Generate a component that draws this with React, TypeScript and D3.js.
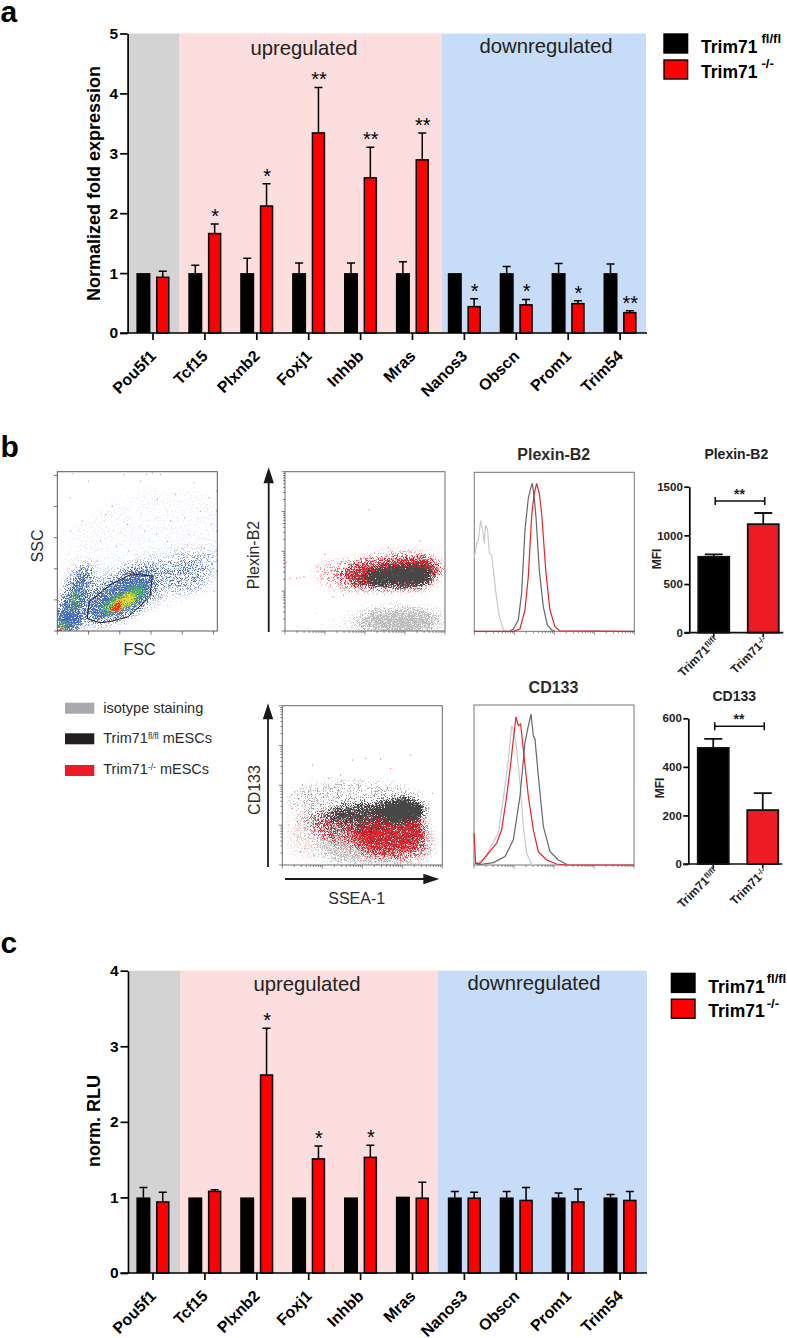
import * as d3 from "d3";
import React, { useEffect, useRef } from "react";

// ---- panels a and c ----
const genes = ["Pou5f1", "Tcf15", "Plxnb2", "Foxj1", "Inhbb", "Mras", "Nanos3", "Obscn", "Prom1", "Trim54"];

const aFlox = [1, 1, 1, 1, 1, 1, 1, 1, 1, 1];
const aFloxTop = [1, 1.13, 1.25, 1.17, 1.17, 1.19, 1, 1.11, 1.16, 1.15];
const aKo = [0.93, 1.66, 2.12, 3.34, 2.59, 2.89, 0.44, 0.47, 0.49, 0.34];
const aKoTop = [1.03, 1.82, 2.49, 4.1, 3.1, 3.34, 0.57, 0.56, 0.54, 0.37];
const aStars = ["", "*", "*", "**", "**", "**", "*", "*", "*", "**"];

const cFlox = [1, 1, 1, 1, 1, 1.01, 1, 1, 1, 1];
const cFloxTop = [1.13, 1, 1, 1, 1, 1.01, 1.08, 1.08, 1.06, 1.04];
const cKo = [0.94, 1.08, 2.62, 1.51, 1.53, 0.99, 0.99, 0.96, 0.94, 0.96];
const cKoTop = [1.07, 1.1, 3.24, 1.68, 1.69, 1.2, 1.07, 1.13, 1.11, 1.08];
const cStars = ["", "", "*", "*", "*", "", "", "", "", ""];

// ---- panel b bars ----
const mfiGroups = ["fl", "ko"];
const plexinMfi = [780, 1115];
const plexinMfiTop = [805, 1230];
const cd133Mfi = [478, 222];
const cd133MfiTop = [515, 292];

// ---- panel b histograms: [channel 0-480, count 0-477] ----
const plexinIso = [[0,219],[7,264],[12,274],[19,332],[25,304],[30,264],[34,319],[40,304],[45,234],[52,229],[57,184],[65,114],[75,44],[87,6],[97,0]];
const plexinFlox = [[107,1],[117,7],[132,34],[142,114],[152,304],[162,399],[169,429],[174,444],[179,409],[185,344],[195,184],[207,74],[219,19],[232,4],[242,0]];
const plexinKo = [[0,0],[117,0],[137,7],[152,64],[162,164],[172,344],[179,409],[187,444],[195,414],[202,354],[215,174],[227,64],[242,14],[257,1],[480,0]];
const cd133Iso = [[8,5],[33,20],[53,60],[73,95],[83,165],[93,235],[103,315],[113,415],[121,395],[128,345],[138,245],[148,115],[158,35],[173,2],[188,0]];
const cd133Flox = [[8,0],[58,7],[93,25],[118,75],[138,205],[153,365],[163,415],[171,450],[178,385],[183,375],[193,265],[208,115],[228,40],[253,15],[278,2]];
const cd133Ko = [[0,95],[5,5],[18,5],[43,35],[68,65],[83,105],[98,205],[110,300],[118,375],[126,442],[133,415],[140,420],[150,325],[163,205],[178,105],[193,40],[218,15],[248,3],[278,0],[480,0]];

// ---- panel b flow plots ----
// The single events can't be read off the picture. Populations are hand-estimated
// regions [cx, cy, rx, ry, tilt, density] on a 0-480 plot scale, and the grain is
// a render filter on them, not data. Only the lone outliers are listed as points.
const gatePolygon = [[90,37],[96,88],[158,138],[223,171],[285,165],[278,103],[268,93],[213,43],[158,28],[128,25]];

const sscBlue = [[270,270,260,150,15,0.03],[248,133,260,72,20,0.12],[385,165,75,50,0,0.14],[53,98,108,34,70,0.5],[188,98,112,52,30,0.55],[30,25,40,34,0,0.6],[250,170,60,28,0,0.25]];
const sscGreen = [[198,93,78,26,30,0.72],[53,93,44,11,70,0.55],[18,16,12,20,0,0.7]];
const sscYellow = [[195,85,50,16,30,0.8],[14,10,6,12,0,0.7]];
const sscRed = [[178,72,24,9,30,0.9],[11,6,5,8,0,1]];
const sscOutliers = [[93,450],[38,400],[40,300],[145,350],[165,375],[210,320],[250,450],[268,470],[300,395],[330,270],[355,410],[382,340],[410,445],[430,360],[462,320],[130,270],[178,255],[215,240],[262,300],[298,290],[340,330],[395,290],[440,250],[465,200],[470,120],[455,400],[120,210],[75,330],[310,470],[285,474],[200,470],[47,472],[477,300],[477,240],[477,180],[477,360],[477,420]];

const plexinGrey = [[340,32,140,38,0,0.4],[350,24,90,28,0,0.55],[240,18,80,26,0,0.12]];
const plexinRed = [[320,178,150,45,4,0.55],[170,165,80,40,-8,0.16],[400,175,50,40,0,0.42]];
const plexinDark = [[290,162,90,28,6,0.4],[335,165,95,30,4,0.8],[385,168,55,30,0,1.0]];
const plexinRedOutliers = [[252,363],[15,158],[35,158],[57,163],[45,160],[95,193],[145,103],[175,108],[5,205],[120,230],[310,250],[405,270]];
const plexinGreyOutliers = [[95,53],[145,33],[165,13],[35,13],[110,20],[70,8],[190,60]];

const cd133Pale = [[285,62,175,62,0,0.32],[150,75,125,70,0,0.16]];
const cd133Red = [[320,95,100,58,0,0.5],[205,112,115,50,0,0.34],[395,110,30,50,0,0.5],[330,50,115,42,0,0.26],[60,100,50,70,0,0.06]];
const cd133DarkThin = [[215,195,200,58,0,0.12],[200,130,150,34,0,0.2],[330,100,115,55,0,0.14]];
const cd133Dark = [[250,155,125,30,4,0.62],[355,162,70,36,4,1]];
const cd133DarkOutliers = [[210,315],[250,320],[295,318],[385,330],[140,260],[175,270],[60,240],[85,225]];
const cd133RedOutliers = [[30,170],[45,130],[20,120],[90,300],[325,290],[370,220],[450,215],[55,40],[95,28]];

const isotypeColor = "#a7a9ac";
const floxColor = "#231f20";
const koColor = "#ed1c24";
const sans = "Liberation Sans, Arial, sans-serif";

const logTicks = d3.scaleLog().domain([1, 10000]).ticks();

function text(parent, str, x, y, size, opts = {}) {
    return parent
        .append("text")
        .text(str)
        .attr("x", x)
        .attr("y", y)
        .attr("font-size", size)
        .attr("font-family", sans)
        .attr("font-weight", opts.weight || "normal")
        .attr("text-anchor", opts.anchor || "start")
        .attr("fill", opts.fill || "#000");
}

function vText(parent, str, x, y, size, opts = {}) {
    return text(parent, str, 0, 0, size, { ...opts, anchor: "middle" }).attr(
        "transform",
        `translate(${x},${y}) rotate(-90)`
    );
}

function drawBarPanel(svg, p) {
    const g = svg.append("g");
    const x = d3.scaleBand().domain(genes).range([127.05, 646.05]);
    const y = d3.scaleLinear().domain([0, p.yMax]).range([p.y0, p.yTop]);

    const edges = p.edges;
    [
        ["#d3d3d3", edges[0], edges[1]],
        ["#fddede", edges[1], edges[2]],
        ["#c7dcf7", edges[2], edges[3]],
    ].forEach(([c, a, b]) => {
        g.append("rect")
            .attr("x", a)
            .attr("width", b - a)
            .attr("y", p.yTop)
            .attr("height", p.y0 - p.yTop)
            .attr("fill", c);
    });

    text(g, "upregulated", p.upX, p.upY, 20.3, { anchor: "middle", fill: "#222" });
    text(g, "downregulated", p.downX, p.downY, 20.3, { anchor: "middle", fill: "#222" });

    const mid = (d) => x(d) + x.bandwidth() / 2;
    const dark = -9.6;
    const red = 9.75;

    genes.forEach((gene, i) => {
        // black bar + whisker
        g.append("rect")
            .attr("x", mid(gene) + dark - 7)
            .attr("width", 14)
            .attr("y", y(p.flox[i]))
            .attr("height", p.y0 - y(p.flox[i]))
            .attr("fill", "#000");
        if (p.floxTop[i] > p.flox[i] + 0.015) {
            g.append("path")
                .attr("d", `M${mid(gene) + dark},${y(p.flox[i])}V${y(p.floxTop[i])}m-4,0h8`)
                .attr("stroke", "#000")
                .attr("stroke-width", 1.5)
                .attr("fill", "none");
        }
        // red bar + whisker
        g.append("path")
            .attr("d", `M${mid(gene) + red},${y(p.ko[i])}V${y(p.koTop[i])}m-4,0h8`)
            .attr("stroke", "#000")
            .attr("stroke-width", 1.5)
            .attr("fill", "none");
        g.append("rect")
            .attr("x", mid(gene) + red - 6)
            .attr("width", 12)
            .attr("y", y(p.ko[i]))
            .attr("height", p.y0 - y(p.ko[i]))
            .attr("fill", "#f00")
            .attr("stroke", "#000")
            .attr("stroke-width", 1.5);
        if (p.stars[i]) {
            text(g, p.stars[i], mid(gene) + red + 0.5, y(p.koTop[i]) - 1, 20, { anchor: "middle" });
        }
    });

    // axes
    const yAxis = d3.axisLeft(y).ticks(p.yMax).tickFormat(d3.format("d")).tickSize(7.5).tickSizeOuter(0);
    const yG = g.append("g").attr("transform", `translate(${p.axisX},0)`).call(yAxis);
    yG.selectAll("line").attr("stroke-width", 1.7);
    yG.select(".domain").attr("stroke-width", 1.7);
    yG.selectAll("text")
        .attr("font-size", 15.5)
        .attr("font-weight", "bold")
        .attr("font-family", sans)
        .attr("fill", "#000")
        .attr("x", -9.5);

    g.append("line")
        .attr("x1", p.axisX - 7.5)
        .attr("x2", 647)
        .attr("y1", p.y0)
        .attr("y2", p.y0)
        .attr("stroke", "#000")
        .attr("stroke-width", 1.7);

    genes.forEach((gene) => {
        g.append("line")
            .attr("x1", mid(gene))
            .attr("x2", mid(gene))
            .attr("y1", p.y0)
            .attr("y2", p.y0 + 7)
            .attr("stroke", "#000")
            .attr("stroke-width", 1.7);
        text(g, gene, 0, 0, 16, { weight: "bold", anchor: "end" }).attr(
            "transform",
            `translate(${mid(gene) + 4},${p.y0 + 24}) rotate(-45)`
        );
    });

    vText(g, p.title, p.titleX, p.titleY, 18, { weight: "bold" });

    // legend
    [
        ["#000", "fl/fl", 0],
        ["#f00", "-/-", 1],
    ].forEach(([fill, sup, i]) => {
        const top = p.legTop[i];
        g.append("rect")
            .attr("x", p.legX + 0.7)
            .attr("y", top + 0.7)
            .attr("width", 23.6)
            .attr("height", 19)
            .attr("fill", fill)
            .attr("stroke", "#000")
            .attr("stroke-width", 1.4);
        text(g, "Trim71", p.legTextX, p.legBase[i], 17.5, { weight: "bold" });
        text(g, sup, p.legSupX, p.legBase[i] - 9.6, 13, { weight: "bold" });
    });
}

function addSpeckleFilter(defs, id, color, seed, blur, slope) {
    const f = defs
        .append("filter")
        .attr("id", id)
        .attr("filterUnits", "userSpaceOnUse")
        .attr("x", 0)
        .attr("y", 0)
        .attr("width", 787)
        .attr("height", 1338)
        .attr("color-interpolation-filters", "sRGB");
    f.append("feGaussianBlur").attr("in", "SourceAlpha").attr("stdDeviation", blur).attr("result", "soft");
    f.append("feTurbulence")
        .attr("type", "fractalNoise")
        .attr("baseFrequency", 1.3)
        .attr("numOctaves", 1)
        .attr("seed", seed)
        .attr("result", "noise");
    f.append("feColorMatrix")
        .attr("in", "noise")
        .attr("type", "matrix")
        .attr("values", "0 0 0 0 0  0 0 0 0 0  0 0 0 0 0  2.2 0 0 0 -0.35")
        .attr("result", "grain");
    f.append("feComposite")
        .attr("in", "soft")
        .attr("in2", "grain")
        .attr("operator", "arithmetic")
        .attr("k1", 0)
        .attr("k2", 1)
        .attr("k3", 1)
        .attr("k4", -1)
        .attr("result", "sum");
    const ct = f.append("feComponentTransfer").attr("in", "sum").attr("result", "dots");
    ct.append("feFuncA").attr("type", "linear").attr("slope", slope).attr("intercept", 0);
    f.append("feFlood").attr("flood-color", color).attr("result", "ink");
    f.append("feComposite").attr("in", "ink").attr("in2", "dots").attr("operator", "in");
}

function addCloud(parent, regions, x, y, filterId) {
    parent
        .append("g")
        .attr("filter", `url(#${filterId})`)
        .selectAll("ellipse")
        .data(regions)
        .enter()
        .append("ellipse")
        .attr("rx", (d) => x(d[2]) - x(0))
        .attr("ry", (d) => y(0) - y(d[3]))
        .attr("transform", (d) => `translate(${x(d[0])},${y(d[1])}) rotate(${-d[4]})`)
        .attr("fill", "#000")
        .attr("fill-opacity", (d) => d[5]);
}

function addDots(parent, pts, x, y, color) {
    parent
        .append("g")
        .selectAll("circle")
        .data(pts)
        .enter()
        .append("circle")
        .attr("cx", (d) => x(d[0]))
        .attr("cy", (d) => y(d[1]))
        .attr("r", 0.5)
        .attr("fill", color);
}

function flowFrame(svg, defs, id, left, top, right, bottom) {
    defs.append("clipPath").attr("id", id).append("rect").attr("x", left).attr("y", top).attr("width", right - left).attr("height", bottom - top);
    const x = d3.scaleLinear().domain([0, 480]).range([left, right]);
    const y = d3.scaleLinear().domain([0, 478]).range([bottom, top]);
    const inner = svg.append("g").attr("clip-path", `url(#${id})`);
    return { x, y, inner };
}

function frameBox(svg, left, top, right, bottom, color = "#5a5a5a") {
    svg.append("rect")
        .attr("x", left)
        .attr("y", top)
        .attr("width", right - left)
        .attr("height", bottom - top)
        .attr("fill", "none")
        .attr("stroke", color)
        .attr("stroke-width", 1);
}

function bottomLogTicks(svg, left, right, bottom) {
    const s = d3.scaleLog().domain([1, 10000]).range([left, right]);
    logTicks.forEach((t) => {
        const major = Number.isInteger(Math.log10(t));
        svg.append("line")
            .attr("x1", s(t))
            .attr("x2", s(t))
            .attr("y1", bottom)
            .attr("y2", bottom + (major ? 3.5 : 2))
            .attr("stroke", "#555")
            .attr("stroke-width", 0.7);
    });
}

function leftLogTicks(svg, left, top, bottom) {
    const s = d3.scaleLog().domain([1, 10000]).range([bottom, top]);
    logTicks.forEach((t) => {
        const major = Number.isInteger(Math.log10(t));
        svg.append("line")
            .attr("x1", left)
            .attr("x2", left - (major ? 3.5 : 2))
            .attr("y1", s(t))
            .attr("y2", s(t))
            .attr("stroke", "#555")
            .attr("stroke-width", 0.7);
    });
}

function drawArrow(svg, x1, y1, x2, y2) {
    const a = (Math.atan2(y2 - y1, x2 - x1) * 180) / Math.PI;
    const len = Math.hypot(x2 - x1, y2 - y1);
    svg.append("line")
        .attr("x1", x1)
        .attr("y1", y1)
        .attr("x2", x1 + ((x2 - x1) * (len - 10)) / len)
        .attr("y2", y1 + ((y2 - y1) * (len - 10)) / len)
        .attr("stroke", "#1a1a1a")
        .attr("stroke-width", 1.8);
    svg.append("path")
        .attr("d", "M0,0L-16,-5.2L-16,5.2Z")
        .attr("transform", `translate(${x2},${y2}) rotate(${a})`)
        .attr("fill", "#1a1a1a");
}

function drawHistogram(svg, left, top, right, bottom, iso, flox, ko, title, titleBase) {
    const x = d3.scaleLinear().domain([0, 480]).range([left, right]);
    const y = d3.scaleLinear().domain([0, 477]).range([bottom, top]);
    const line = d3.line().x((d) => x(d[0])).y((d) => y(d[1]));
    frameBox(svg, left, top, right, bottom, "#777");
    bottomLogTicks(svg, left, right, bottom);
    [[iso, "#c9c9c9"], [flox, "#666666"], [ko, "#e8232a"]].forEach(([pts, c]) => {
        svg.append("path")
            .attr("d", line(pts))
            .attr("fill", "none")
            .attr("stroke", c)
            .attr("stroke-width", 1.2);
    });
    text(svg, title, (left + right) / 2 - 0.5, titleBase, 16, { weight: "bold", anchor: "middle", fill: "#2b2b2b" });
}

function drawMfiBars(svg, p) {
    const g = svg.append("g");
    const x = d3.scaleBand().domain(mfiGroups).range([p.x0 + 0.5, p.x0 + 99.5]);
    const y = d3.scaleLinear().domain([0, p.yMax]).range([p.y0, p.yTop]);
    const mid = (d) => x(d) + x.bandwidth() / 2;
    const barW = 31;

    mfiGroups.forEach((k, i) => {
        g.append("path")
            .attr("d", `M${mid(k)},${y(p.vals[i])}V${y(p.tops[i])}m-9,0h18`)
            .attr("stroke", "#111")
            .attr("stroke-width", 1.8)
            .attr("fill", "none");
        g.append("rect")
            .attr("x", mid(k) - barW / 2)
            .attr("width", barW)
            .attr("y", y(p.vals[i]))
            .attr("height", p.y0 - y(p.vals[i]))
            .attr("fill", i === 0 ? "#000" : koColor)
            .attr("stroke", "#111")
            .attr("stroke-width", 1.8);
    });

    const yAxis = d3.axisLeft(y).tickValues(p.ticks).tickFormat(d3.format("d")).tickSize(5).tickSizeOuter(0);
    const yG = g.append("g").attr("transform", `translate(${p.axisX},0)`).call(yAxis);
    yG.selectAll("line").attr("stroke-width", 1.7);
    yG.select(".domain").attr("stroke-width", 1.7);
    yG.selectAll("text")
        .attr("font-size", 11.5)
        .attr("font-weight", "bold")
        .attr("font-family", sans)
        .attr("fill", "#222")
        .attr("x", -6.5);
    g.append("line")
        .attr("x1", p.axisX - 5)
        .attr("x2", p.axisX + 94)
        .attr("y1", p.y0)
        .attr("y2", p.y0)
        .attr("stroke", "#111")
        .attr("stroke-width", 1.7);

    mfiGroups.forEach((k, i) => {
        g.append("line")
            .attr("x1", mid(k))
            .attr("x2", mid(k))
            .attr("y1", p.y0)
            .attr("y2", p.y0 + 4.5)
            .attr("stroke", "#111")
            .attr("stroke-width", 1.7);
        const t = text(g, "Trim71", 0, 0, 12, { weight: "bold", anchor: "end", fill: "#222" }).attr(
            "transform",
            `translate(${mid(k) + 5},${p.y0 + 9}) rotate(-45)`
        );
        t.append("tspan").text(i === 0 ? "fl/fl" : "-/-").attr("font-size", 8).attr("dy", -3.5);
    });

    // significance bracket
    const by = y(p.bracket);
    g.append("path")
        .attr("d", `M${mid("fl") + 1.5},${by - 4}v8m0,-4H${mid("ko") + 1.5}m0,-4v8`)
        .attr("stroke", "#111")
        .attr("stroke-width", 1.6)
        .attr("fill", "none");
    text(g, "**", (mid("fl") + mid("ko")) / 2 + 1, by - 2, 14, { weight: "bold", anchor: "middle", fill: "#222" });

    text(g, p.title, p.titleX, p.titleY, 14, { weight: "bold", anchor: "middle", fill: "#222" });
    vText(g, "MFI", p.mfiX, p.mfiY, 12, { weight: "bold", fill: "#222" });
}

function drawChart(el) {
    const svg = d3.select(el);
    svg.selectAll("*").remove();
    const defs = svg.append("defs");

    text(svg, "a", 0.5, 22, 30, { weight: "bold" });
    text(svg, "b", 0.5, 456.5, 30, { weight: "bold" });
    text(svg, "c", 0.5, 952.5, 30, { weight: "bold" });

    drawBarPanel(svg, {
        flox: aFlox, floxTop: aFloxTop, ko: aKo, koTop: aKoTop, stars: aStars,
        yMax: 5, y0: 333, yTop: 33.5, axisX: 127.6,
        edges: [129, 179, 441.7, 646],
        upX: 304, upY: 55, downX: 546, downY: 53,
        title: "Normalized fold expression", titleX: 99.5, titleY: 183.5,
        legX: 663.3, legTop: [33.3, 59.3], legTextX: 701, legBase: [53, 78], legSupX: 761.5,
    });
    drawBarPanel(svg, {
        flox: cFlox, floxTop: cFloxTop, ko: cKo, koTop: cKoTop, stars: cStars,
        yMax: 4, y0: 1273, yTop: 970.7, axisX: 128,
        edges: [129.5, 180, 438, 647],
        upX: 307, upY: 990.7, downX: 534, downY: 990,
        title: "norm. RLU", titleX: 99.5, titleY: 1121,
        legX: 670.7, legTop: [972.7, 998.5], legTextX: 708.3, legBase: [992.7, 1017.3], legSupX: 766.7,
    });

    addSpeckleFilter(defs, "spBlue", "#4a6cc0", 2, 6, 4);
    addSpeckleFilter(defs, "spGreen", "#54b060", 5, 3.5, 3);
    addSpeckleFilter(defs, "spYellow", "#e2d83a", 7, 2.5, 3);
    addSpeckleFilter(defs, "spRedHot", "#ee3a1c", 9, 2, 3);
    addSpeckleFilter(defs, "spGrey", "#bdbdbd", 11, 6, 4);
    addSpeckleFilter(defs, "spRed", "#e5202a", 13, 6, 4);
    addSpeckleFilter(defs, "spDark", "#474747", 17, 4.5, 4);
    addSpeckleFilter(defs, "spRedB", "#e5202a", 19, 6, 4);

    // FSC / SSC
    const ssc = flowFrame(svg, defs, "clipSsc", 57.3, 471.7, 217.3, 631);
    addCloud(ssc.inner, sscBlue, ssc.x, ssc.y, "spBlue");
    addCloud(ssc.inner, sscGreen, ssc.x, ssc.y, "spGreen");
    addCloud(ssc.inner, sscYellow, ssc.x, ssc.y, "spYellow");
    addCloud(ssc.inner, sscRed, ssc.x, ssc.y, "spRedHot");
    addDots(ssc.inner, sscOutliers, ssc.x, ssc.y, "#4a6cc0");
    svg.append("path")
        .attr("d", d3.line().x((d) => ssc.x(d[0])).y((d) => ssc.y(d[1])).curve(d3.curveLinearClosed)(gatePolygon))
        .attr("fill", "none")
        .attr("stroke", "#222")
        .attr("stroke-width", 1);
    frameBox(svg, 57.3, 471.7, 217.3, 631);
    const linX = d3.scaleLinear().domain([0, 1024]).range([57.3, 217.3]);
    const linY = d3.scaleLinear().domain([0, 1024]).range([631, 471.7]);
    d3.range(0, 1024, 200).forEach((t) => {
        svg.append("line").attr("x1", linX(t)).attr("x2", linX(t)).attr("y1", 631).attr("y2", 634.5).attr("stroke", "#555").attr("stroke-width", 0.8);
        svg.append("line").attr("x1", 57.3).attr("x2", 53.8).attr("y1", linY(t)).attr("y2", linY(t)).attr("stroke", "#555").attr("stroke-width", 0.8);
    });
    vText(svg, "SSC", 43, 546, 16, { fill: "#2b2b2b" });
    text(svg, "FSC", 139.5, 655, 16, { anchor: "middle", fill: "#2b2b2b" });

    // Plexin-B2 vs SSEA-1
    const plex = flowFrame(svg, defs, "clipPlex", 285, 471.7, 445, 631);
    addCloud(plex.inner, plexinGrey, plex.x, plex.y, "spGrey");
    addCloud(plex.inner, plexinRed, plex.x, plex.y, "spRed");
    addCloud(plex.inner, plexinDark, plex.x, plex.y, "spDark");
    addDots(plex.inner, plexinRedOutliers, plex.x, plex.y, koColor);
    addDots(plex.inner, plexinGreyOutliers, plex.x, plex.y, "#bdbdbd");
    frameBox(svg, 285, 471.7, 445, 631, "#6a6a6a");
    bottomLogTicks(svg, 285, 445, 631);
    leftLogTicks(svg, 285, 471.7, 631);
    drawArrow(svg, 268.7, 632, 268.7, 467.3);
    vText(svg, "Plexin-B2", 259, 555, 16, { fill: "#2b2b2b" });

    // CD133 vs SSEA-1
    const cd = flowFrame(svg, defs, "clipCd", 282.3, 705.7, 442.3, 865);
    addCloud(cd.inner, cd133Pale, cd.x, cd.y, "spGrey");
    addCloud(cd.inner, cd133Red, cd.x, cd.y, "spRedB");
    addCloud(cd.inner, cd133DarkThin, cd.x, cd.y, "spDark");
    addCloud(cd.inner, cd133Dark, cd.x, cd.y, "spDark");
    addDots(cd.inner, cd133DarkOutliers, cd.x, cd.y, "#555");
    addDots(cd.inner, cd133RedOutliers, cd.x, cd.y, koColor);
    frameBox(svg, 282.3, 705.7, 442.3, 865, "#6a6a6a");
    bottomLogTicks(svg, 282.3, 442.3, 865);
    leftLogTicks(svg, 282.3, 705.7, 865);
    drawArrow(svg, 268, 867, 268, 703.3);
    drawArrow(svg, 285, 879, 439.3, 879);
    vText(svg, "CD133", 260, 790, 16, { fill: "#2b2b2b" });
    text(svg, "SSEA-1", 356.7, 904, 16, { anchor: "middle", fill: "#2b2b2b" });

    // shared legend
    [
        ["isotype staining", "", "", isotypeColor, 702.7, 712.7],
        ["Trim71", "fl/fl", " mESCs", floxColor, 733.3, 743.3],
        ["Trim71", "-/-", " mESCs", koColor, 765, 774.3],
    ].forEach(([a, sup, b, c, top, base]) => {
        svg.append("rect").attr("x", 65).attr("y", top).attr("width", 29.3).attr("height", 11).attr("fill", c);
        const t = text(svg, a, 103.3, base, 14.5, { fill: "#2b2b2b" });
        if (sup) {
            t.append("tspan").text(sup).attr("font-size", 8.5).attr("dy", -4.5);
            t.append("tspan").text(b).attr("dy", 4.5);
        }
    });

    drawHistogram(svg, 474.3, 472.3, 634.3, 631.3, plexinIso, plexinFlox, plexinKo, "Plexin-B2", 460);
    drawHistogram(svg, 474, 705, 634, 865, cd133Iso, cd133Flox, cd133Ko, "CD133", 693);

    drawMfiBars(svg, {
        vals: plexinMfi, tops: plexinMfiTop, ticks: [0, 500, 1000, 1500],
        yMax: 1500, y0: 632.7, yTop: 486.7, axisX: 689.3, x0: 688.5, bracket: 1353,
        title: "Plexin-B2", titleX: 736.3, titleY: 459.3, mfiX: 661, mfiY: 559,
    });
    drawMfiBars(svg, {
        vals: cd133Mfi, tops: cd133MfiTop, ticks: [0, 200, 400, 600],
        yMax: 600, y0: 864, yTop: 718.3, axisX: 688.3, x0: 688, bracket: 567,
        title: "CD133", titleX: 734.3, titleY: 700.7, mfiX: 663.5, mfiY: 788,
    });
}

export default function App() {
    const ref = useRef(null);

    useEffect(() => {
        drawChart(ref.current);
    }, []);

    return (
        <svg
            ref={ref}
            width={787}
            height={1338}
            style={{ position: "absolute", left: 0, top: 0, background: "#fff" }}
        />
    );
}
